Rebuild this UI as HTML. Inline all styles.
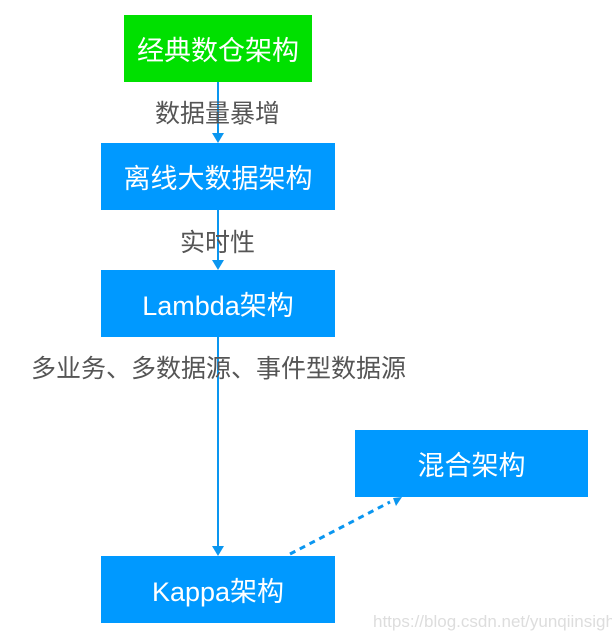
<!DOCTYPE html>
<html><head><meta charset="utf-8"><style>
body{margin:0;width:612px;height:640px;background:#fff;position:relative;overflow:hidden;font-family:"Liberation Sans","Noto Sans CJK SC",sans-serif}
.b{position:absolute;color:#fff;font-size:27px;display:flex;align-items:center;justify-content:center;background:#0099ff}
.l{position:absolute;color:#555;font-size:25px;line-height:30px;white-space:nowrap;background:transparent}
</style></head><body>
<svg width="612" height="640" style="position:absolute;left:0;top:0">
<line x1="218" y1="82" x2="218" y2="135" stroke="#0a96f0" stroke-width="2"/>
<polygon points="212,133 224,133 218,143" fill="#0a96f0"/>
<line x1="218" y1="210" x2="218" y2="262" stroke="#0a96f0" stroke-width="2"/>
<polygon points="212,260 224,260 218,270" fill="#0a96f0"/>
<line x1="218" y1="337" x2="218" y2="548" stroke="#0a96f0" stroke-width="2"/>
<polygon points="212,546 224,546 218,556" fill="#0a96f0"/>
<line x1="290" y1="554" x2="390" y2="502" stroke="#0a96f0" stroke-width="3" stroke-dasharray="6,5"/>
<polygon points="393,498 402,497 396,506" fill="#0a96f0"/>
</svg>
<div class="b" style="left:124px;top:15px;width:188px;height:67px;background:#00e000">经典数仓架构</div>
<div class="b" style="left:101px;top:143px;width:234px;height:67px">离线大数据架构</div>
<div class="b" style="left:101px;top:270px;width:234px;height:67px">Lambda架构</div>
<div class="b" style="left:355px;top:430px;width:233px;height:67px">混合架构</div>
<div class="b" style="left:101px;top:556px;width:234px;height:67px">Kappa架构</div>
<div class="l" style="left:155px;top:99px">数据量暴增</div>
<div class="l" style="left:180px;top:228px">实时性</div>
<div class="l" style="left:31px;top:354px">多业务、多数据源、事件型数据源</div>
<div class="l" style="left:373px;top:611px;font-size:17px;color:#ddd;line-height:22px">https://blog.csdn.net/yunqiinsight</div>
</body></html>
